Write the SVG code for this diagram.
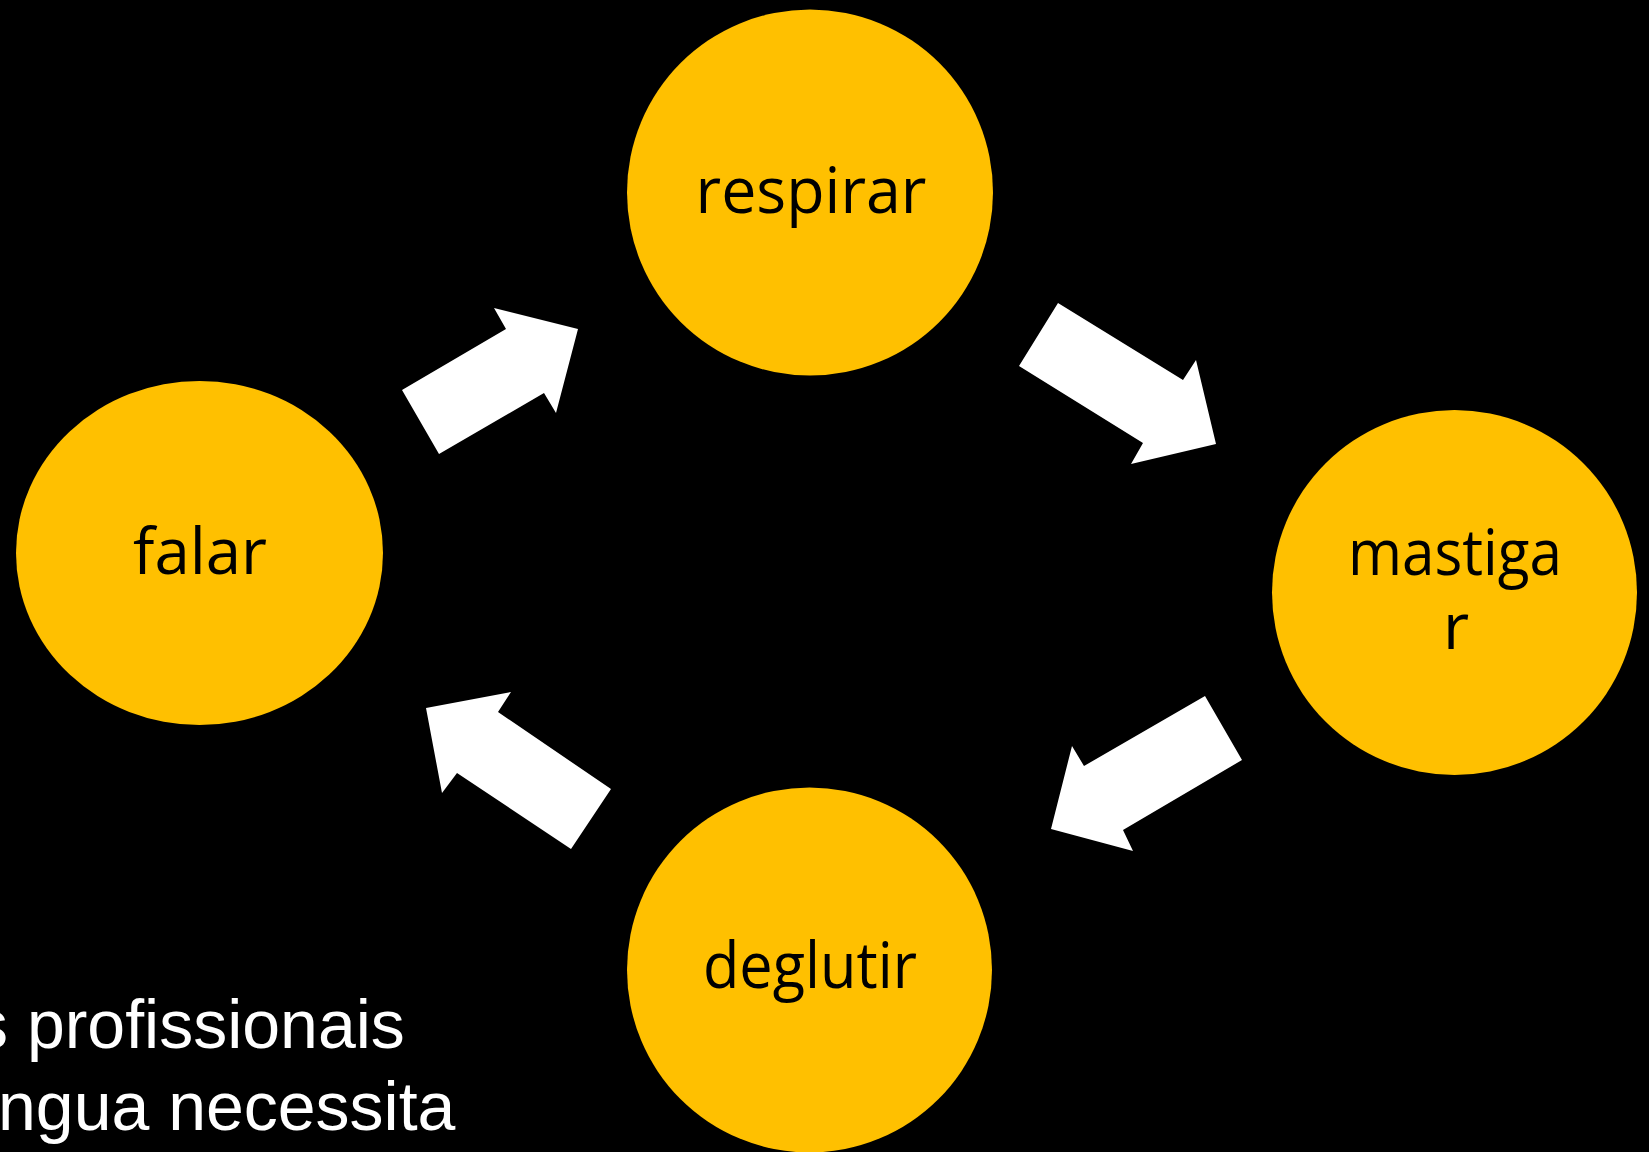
<svg xmlns="http://www.w3.org/2000/svg" width="1649" height="1152" viewBox="0 0 1649 1152">
<style>
.node{fill:#FFC000}
.lbl{font-family:"Open Sans","Noto Sans",sans-serif;font-size:64px;fill:#000;text-anchor:middle}
.arrow{fill:#FFFFFF}
.body{font-family:"Liberation Sans",Arial,sans-serif;font-size:68px;fill:#FFFFFF}
</style>
<rect x="0" y="0" width="1649" height="1152" fill="#000"/>
<g id="connectors">
<polygon class="arrow" points="402,390 506,329 494,308 578,329 556,413 544,393 439,454"/>
<polygon class="arrow" points="1058,303 1183,380 1196,360 1216,444 1131,464 1143,443 1019,366"/>
<polygon class="arrow" points="1205,696 1242,760 1123,830 1133,851 1051,829 1072,746 1084,766"/>
<polygon class="arrow" points="571,849 611,789 498,712 511,692 426,708 442,793 457,773"/>
</g>
<g id="respirar">
<circle class="node" cx="810" cy="192.5" r="183"/>
<text class="lbl" x="811" y="213" textLength="231" lengthAdjust="spacingAndGlyphs">respirar</text>
</g>
<g id="mastigar">
<circle class="node" cx="1454.5" cy="592.5" r="182.5"/>
<text class="lbl" x="1455" y="575" textLength="214" lengthAdjust="spacingAndGlyphs">mastiga</text>
<text class="lbl" x="1456" y="649">r</text>
</g>
<g id="deglutir">
<circle class="node" cx="809.5" cy="970" r="182.5"/>
<text class="lbl" x="810" y="988" textLength="214" lengthAdjust="spacingAndGlyphs">deglutir</text>
</g>
<g id="falar">
<ellipse class="node" cx="199.5" cy="553" rx="183.5" ry="172"/>
<text class="lbl" x="200" y="574" textLength="134" lengthAdjust="spacingAndGlyphs">falar</text>
</g>
<g id="body-text">
<text class="body" x="-26" y="1048">s profissionais</text>
<text class="body" x="-2" y="1130">ngua necessita</text>
</g>
</svg>
